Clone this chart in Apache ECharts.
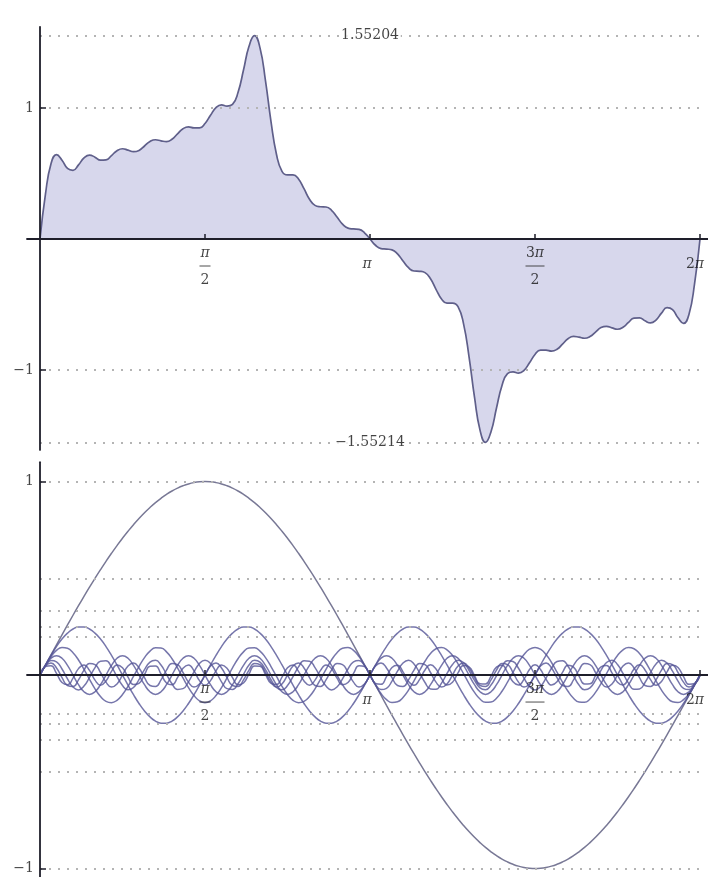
<!DOCTYPE html>
<html><head><meta charset="utf-8">
<script src="https://cdn.jsdelivr.net/npm/echarts@6/dist/echarts.min.js"></script>
<style>html,body{margin:0;padding:0;background:#fff}#c{width:708px;height:877px}</style>
</head><body><div id="c"></div>
<script>
// x positions in degrees (0..360 = 0..2π)
const angleDeg = [0,3,6,9,12,15,18,21,24,27,30,33,36,39,42,45,48,51,54,57,60,63,66,69,72,75,78,81,84,87,90,93,96,99,102,105,108,111,114,117,120,123,126,129,132,135,138,141,144,147,150,153,156,159,162,165,168,171,174,177,180,183,186,189,192,195,198,201,204,207,210,213,216,219,222,225,228,231,234,237,240,243,246,249,252,255,258,261,264,267,270,273,276,279,282,285,288,291,294,297,300,303,306,309,312,315,318,321,324,327,330,333,336,339,342,345,348,351,354,357,360];

// top panel: partial sum
const partialSum = [0,.3444,.5739,.6441,.6016,.5385,.5245,.5657,.6189,.6408,.6248,.6016,.6045,.6369,.6743,.6889,.6786,.6665,.6764,.7102,.7447,.7578,.7496,.7433,.7614,.8026,.8419,.8562,.8484,.8479,.8814,.9447,1.0030,1.0236,1.0143,1.0274,1.1182,1.2897,1.4708,1.5522,1.4591,1.2078,.8970,.6455,.5166,.4889,.4899,.4579,.3839,.3040,.2568,.2464,.2441,.2193,.1677,.1137,.0828,.0767,.0729,.0476,0,
-.0476,-.0729,-.0767,-.0828,-.1137,-.1677,-.2193,-.2441,-.2464,-.2568,-.3040,-.3839,-.4579,-.4899,-.4889,-.5166,-.6455,-.8970,-1.2078,-1.4591,-1.5522,-1.4708,-1.2897,-1.1182,-1.0274,-1.0143,-1.0236,-1.0030,-.9447,-.8814,-.8479,-.8484,-.8562,-.8419,-.8026,-.7614,-.7433,-.7496,-.7578,-.7447,-.7102,-.6764,-.6665,-.6786,-.6889,-.6743,-.6369,-.6045,-.6016,-.6248,-.6408,-.6189,-.5657,-.5245,-.5385,-.6016,-.6441,-.5739,-.3444,0];

// bottom panel: individual harmonics
const term1 = [0,.0523,.1045,.1564,.2079,.2588,.3090,.3584,.4067,.4540,.5,.5446,.5878,.6293,.6691,.7071,.7431,.7771,.8090,.8387,.8660,.8910,.9135,.9336,.9511,.9659,.9781,.9877,.9945,.9986,1,.9986,.9945,.9877,.9781,.9659,.9511,.9336,.9135,.8910,.8660,.8387,.8090,.7771,.7431,.7071,.6691,.6293,.5878,.5446,.5,.4540,.4067,.3584,.3090,.2588,.2079,.1564,.1045,.0523,0,
-.0523,-.1045,-.1564,-.2079,-.2588,-.3090,-.3584,-.4067,-.4540,-.5,-.5446,-.5878,-.6293,-.6691,-.7071,-.7431,-.7771,-.8090,-.8387,-.8660,-.8910,-.9135,-.9336,-.9511,-.9659,-.9781,-.9877,-.9945,-.9986,-1,-.9986,-.9945,-.9877,-.9781,-.9659,-.9511,-.9336,-.9135,-.8910,-.8660,-.8387,-.8090,-.7771,-.7431,-.7071,-.6691,-.6293,-.5878,-.5446,-.5,-.4540,-.4067,-.3584,-.3090,-.2588,-.2079,-.1564,-.1045,-.0523,0];

const term4 = [0,
.0520,.1017,.1470,.1858,.2165,.2378,.2486,.2486,.2378,.2165,.1858,.1470,.1017,.0520,0,-.0520,-.1017,-.1470,-.1858,-.2165,-.2378,-.2486,-.2486,-.2378,-.2165,-.1858,-.1470,-.1017,-.0520,0,
.0520,.1017,.1470,.1858,.2165,.2378,.2486,.2486,.2378,.2165,.1858,.1470,.1017,.0520,0,-.0520,-.1017,-.1470,-.1858,-.2165,-.2378,-.2486,-.2486,-.2378,-.2165,-.1858,-.1470,-.1017,-.0520,0,
.0520,.1017,.1470,.1858,.2165,.2378,.2486,.2486,.2378,.2165,.1858,.1470,.1017,.0520,0,-.0520,-.1017,-.1470,-.1858,-.2165,-.2378,-.2486,-.2486,-.2378,-.2165,-.1858,-.1470,-.1017,-.0520,0,
.0520,.1017,.1470,.1858,.2165,.2378,.2486,.2486,.2378,.2165,.1858,.1470,.1017,.0520,0,-.0520,-.1017,-.1470,-.1858,-.2165,-.2378,-.2486,-.2486,-.2378,-.2165,-.1858,-.1470,-.1017,-.0520,0];

const term7 = [0,.0512,.0956,.1273,.1421,.1380,.1156,.0778,.0297,-.0223,-.0714,-.1110,-.1359,-.1427,-.1305,-.1010,-.0581,-.0075,.0441,.0899,.1237,.1411,.1397,.1198,.0840,.0370,-.0149,-.0649,-.1062,-.1334,-.1429,-.1334,-.1062,-.0649,-.0149,.0370,.0840,.1198,.1397,.1411,.1237,.0899,.0441,-.0075,-.0581,-.1010,-.1305,-.1427,-.1359,-.1110,-.0714,-.0223,.0297,.0778,.1156,.1380,.1421,.1273,.0956,.0512,0,
-.0512,-.0956,-.1273,-.1421,-.1380,-.1156,-.0778,-.0297,.0223,.0714,.1110,.1359,.1427,.1305,.1010,.0581,.0075,-.0441,-.0899,-.1237,-.1411,-.1397,-.1198,-.0840,-.0370,.0149,.0649,.1062,.1334,.1429,.1334,.1062,.0649,.0149,-.0370,-.0840,-.1198,-.1397,-.1411,-.1237,-.0899,-.0441,.0075,.0581,.1010,.1305,.1427,.1359,.1110,.0714,.0223,-.0297,-.0778,-.1156,-.1380,-.1421,-.1273,-.0956,-.0512,0];

const term10 = [
0,.05,.0866,.1,.0866,.05,0,-.05,-.0866,-.1,-.0866,-.05,
0,.05,.0866,.1,.0866,.05,0,-.05,-.0866,-.1,-.0866,-.05,
0,.05,.0866,.1,.0866,.05,0,-.05,-.0866,-.1,-.0866,-.05,
0,.05,.0866,.1,.0866,.05,0,-.05,-.0866,-.1,-.0866,-.05,
0,.05,.0866,.1,.0866,.05,0,-.05,-.0866,-.1,-.0866,-.05,
0,.05,.0866,.1,.0866,.05,0,-.05,-.0866,-.1,-.0866,-.05,
0,.05,.0866,.1,.0866,.05,0,-.05,-.0866,-.1,-.0866,-.05,
0,.05,.0866,.1,.0866,.05,0,-.05,-.0866,-.1,-.0866,-.05,
0,.05,.0866,.1,.0866,.05,0,-.05,-.0866,-.1,-.0866,-.05,
0,.05,.0866,.1,.0866,.05,0,-.05,-.0866,-.1,-.0866,-.05,
0];

const term13 = [0,.0484,.0752,.0685,.0313,-.0199,-.0622,-.0768,-.0572,-.0120,.0385,.0718,.0732,.0419,-.0080,-.0544,-.0765,-.0645,-.0238,.0276,.0666,.0760,.0515,.0040,-.0452,-.0743,-.0703,-.0349,.0160,.0598,.0769,.0598,.0160,-.0349,-.0703,-.0743,-.0452,.0040,.0515,.0760,.0666,.0276,-.0238,-.0645,-.0765,-.0544,-.0080,.0419,.0732,.0718,.0385,-.0120,-.0572,-.0768,-.0622,-.0199,.0313,.0685,.0752,.0484,0,
-.0484,-.0752,-.0685,-.0313,.0199,.0622,.0768,.0572,.0120,-.0385,-.0718,-.0732,-.0419,.0080,.0544,.0765,.0645,.0238,-.0276,-.0666,-.0760,-.0515,-.0040,.0452,.0743,.0703,.0349,-.0160,-.0598,-.0769,-.0598,-.0160,.0349,.0703,.0743,.0452,-.0040,-.0515,-.0760,-.0666,-.0276,.0238,.0645,.0765,.0544,.0080,-.0419,-.0732,-.0718,-.0385,.0120,.0572,.0768,.0622,.0199,-.0313,-.0685,-.0752,-.0484,0];

const term16 = [
0,.0464,.0622,.0367,-.0130,-.0541,-.0594,-.0254,.0254,.0594,.0541,.0130,-.0367,-.0622,-.0464,
0,.0464,.0622,.0367,-.0130,-.0541,-.0594,-.0254,.0254,.0594,.0541,.0130,-.0367,-.0622,-.0464,
0,.0464,.0622,.0367,-.0130,-.0541,-.0594,-.0254,.0254,.0594,.0541,.0130,-.0367,-.0622,-.0464,
0,.0464,.0622,.0367,-.0130,-.0541,-.0594,-.0254,.0254,.0594,.0541,.0130,-.0367,-.0622,-.0464,
0,.0464,.0622,.0367,-.0130,-.0541,-.0594,-.0254,.0254,.0594,.0541,.0130,-.0367,-.0622,-.0464,
0,.0464,.0622,.0367,-.0130,-.0541,-.0594,-.0254,.0254,.0594,.0541,.0130,-.0367,-.0622,-.0464,
0,.0464,.0622,.0367,-.0130,-.0541,-.0594,-.0254,.0254,.0594,.0541,.0130,-.0367,-.0622,-.0464,
0,.0464,.0622,.0367,-.0130,-.0541,-.0594,-.0254,.0254,.0594,.0541,.0130,-.0367,-.0622,-.0464,
0];

const term19 = [0,.0441,.0481,.0082,-.0391,-.0508,-.0163,.0331,.0523,.0239,-.0263,-.0526,-.0309,.0189,.0515,.0372,-.0109,-.0491,-.0426,.0028,.0456,.0469,.0055,-.0409,-.0501,-.0136,.0352,.0520,.0214,-.0287,-.0526,-.0287,.0214,.0520,.0352,-.0136,-.0501,-.0409,.0055,.0469,.0456,.0028,-.0426,-.0491,-.0109,.0372,.0515,.0189,-.0309,-.0526,-.0263,.0239,.0523,.0331,-.0163,-.0508,-.0391,.0082,.0481,.0441,0,
-.0441,-.0481,-.0082,.0391,.0508,.0163,-.0331,-.0523,-.0239,.0263,.0526,.0309,-.0189,-.0515,-.0372,.0109,.0491,.0426,-.0028,-.0456,-.0469,-.0055,.0409,.0501,.0136,-.0352,-.0520,-.0214,.0287,.0526,.0287,-.0214,-.0520,-.0352,.0136,.0501,.0409,-.0055,-.0469,-.0456,-.0028,.0426,.0491,.0109,-.0372,-.0515,-.0189,.0309,.0526,.0263,-.0239,-.0523,-.0331,.0163,.0508,.0391,-.0082,-.0481,-.0441,0];

// gridlines and tick labels
const topGridValues = [1.55204, 1, -1, -1.55214];
const topExtremaX = [180, 180];
const topExtremaY = [1.55204, -1.55214];
const topExtremaText = ['1.55204', '\u22121.55214'];
const bottomGridValues = [1, 0.5, 0.3333, 0.25, 0.2, -0.2, -0.25, -0.3333, -0.5, -1];
const xTickValues = [90, 180, 270, 360];
const xTickLabels = ['\u03c0/2', '\u03c0', '3\u03c0/2', '2\u03c0'];
const yTickValues = [-1, 1];
const yTickLabels = ['\u22121', '1'];

[partialSum, term1, term4, term7, term10, term13, term16, term19].forEach((a, i) => {
  if (a.length !== angleDeg.length) console.error('length mismatch', i, a.length);
});

const SERIF = 'DejaVu Serif';
const INK = '#141414';
const pairs = ys => angleDeg.map((a, i) => [a, ys[i]]);

function xLabel(v) {
  const i = xTickValues.indexOf(v);
  if (i < 0) return '';
  const t = xTickLabels[i];
  if (t.indexOf('/') >= 0) {
    const [num, den] = t.split('/');
    const lead = num.replace('\u03c0', '');
    const numTxt = (lead ? '{nr|' + lead + '}' : '') + '{n|\u03c0}';
    return numTxt + '\n' + (lead ? '{barw| }' : '{bar| }') + '\n{d|' + den + '}';
  }
  const lead = t.replace('\u03c0', '');
  return lead ? '{cr|' + lead + '}{c2|\u03c0}' : '{c|\u03c0}';
}
const rich = {
  n: { fontFamily: SERIF, fontSize: 14, fontStyle: 'italic', lineHeight: 16, color: INK },
  nr: { fontFamily: SERIF, fontSize: 14, lineHeight: 16, color: INK },
  bar: { width: 11, height: 1, lineHeight: 10, backgroundColor: '#222' },
  barw: { width: 19, height: 1, lineHeight: 10, backgroundColor: '#222' },
  d: { fontFamily: SERIF, fontSize: 14, lineHeight: 18, color: INK },
  c: { fontFamily: SERIF, fontSize: 14, fontStyle: 'italic', lineHeight: 38, color: INK, padding: [0, 6, 0, 0] },
  cr: { fontFamily: SERIF, fontSize: 14, lineHeight: 38, color: INK },
  c2: { fontFamily: SERIF, fontSize: 14, fontStyle: 'italic', lineHeight: 38, color: INK, padding: [0, 10, 0, 0] }
};

function makeX(gridIndex) {
  return {
    type: 'value', gridIndex, min: -7.09, max: 364.36, z: 10,
    axisLine: { onZero: true, lineStyle: { color: '#1e1e2a', width: 1.8 } },
    axisTick: { show: true, inside: true, length: 5, customValues: xTickValues, lineStyle: { color: '#1e1e2a', width: 1.5 } },
    axisLabel: { show: false },
    splitLine: { show: false }
  };
}
function makeY(gridIndex, min, max) {
  return {
    type: 'value', gridIndex, min, max, z: 10,
    axisLine: { show: true, onZero: true, lineStyle: { color: '#1e1e2a', width: 1.8 } },
    axisTick: { show: true, inside: true, length: 6, customValues: yTickValues, lineStyle: { color: '#1e1e2a', width: 1.5 } },
    axisLabel: { show: false },
    splitLine: { show: false }
  };
}
const dotted = { type: [2, 7], color: '#b4b4b4', width: 2 };
const gridMark = vals => ({
  silent: true, symbol: ['none', 'none'], label: { show: false }, lineStyle: dotted,
  data: vals.map(v => [{ coord: [0, v] }, { coord: [360, v] }])
});
const xTickLabelSeries = (gi) => ({
  type: 'scatter', xAxisIndex: gi, yAxisIndex: gi, symbolSize: 0, z: 15, silent: true,
  data: xTickValues.map(v => [v, 0]),
  label: { show: true, position: 'bottom', distance: 6, formatter: p => xLabel(p.value[0]), rich, color: INK }
});
const yTickLabelSeries = (gi) => ({
  type: 'scatter', xAxisIndex: gi, yAxisIndex: gi, symbolSize: 0, z: 15, silent: true,
  data: yTickValues.map(v => [0, v]),
  label: { show: true, position: 'left', distance: 6, formatter: p => yTickLabels[p.dataIndex],
    fontFamily: SERIF, fontSize: 14, color: INK }
});

const curveColor = 'rgba(84,84,150,0.8)';
const harmonicSets = [term1, term4, term7, term10, term13, term16, term19];
const bottomSeries = harmonicSets.map((arr, i) => ({
  type: 'line', xAxisIndex: 1, yAxisIndex: 1, data: pairs(arr), smooth: true, symbol: 'none',
  lineStyle: { color: i === 0 ? 'rgba(105,105,138,0.9)' : curveColor, width: 1.5 },
  markLine: i === 0 ? gridMark(bottomGridValues) : undefined,
  z: 3
}));

const chart = echarts.init(document.getElementById('c'), null, { renderer: 'canvas' });
chart.setOption({
  animation: false,
  backgroundColor: '#fff',
  grid: [
    { left: 27, right: 0, top: 26.8, height: 423.1, containLabel: false, outerBoundsMode: 'none' },
    { left: 27, right: 0, top: 462.2, height: 416, containLabel: false, outerBoundsMode: 'none' }
  ],
  xAxis: [makeX(0), makeX(1)],
  yAxis: [makeY(0, -1.61, 1.62), makeY(1, -1.05, 1.1)],
  series: [
    {
      type: 'line', xAxisIndex: 0, yAxisIndex: 0, data: pairs(partialSum), smooth: true, symbol: 'none',
      lineStyle: { color: '#5f5f8a', width: 1.7 },
      areaStyle: { color: '#d7d7ec', opacity: 1 },
      markLine: gridMark(topGridValues), z: 2
    },
    {
      type: 'scatter', xAxisIndex: 0, yAxisIndex: 0, symbolSize: 0, z: 20, silent: true,
      data: topExtremaX.map((x, i) => [x, topExtremaY[i]]),
      label: { show: true, position: 'inside', formatter: p => topExtremaText[p.dataIndex],
        fontFamily: SERIF, fontSize: 14, color: INK, backgroundColor: '#fff', padding: [1, 2] }
    },
    xTickLabelSeries(0),
    xTickLabelSeries(1),
    yTickLabelSeries(0),
    yTickLabelSeries(1),
    ...bottomSeries
  ]
});
</script></body></html>
